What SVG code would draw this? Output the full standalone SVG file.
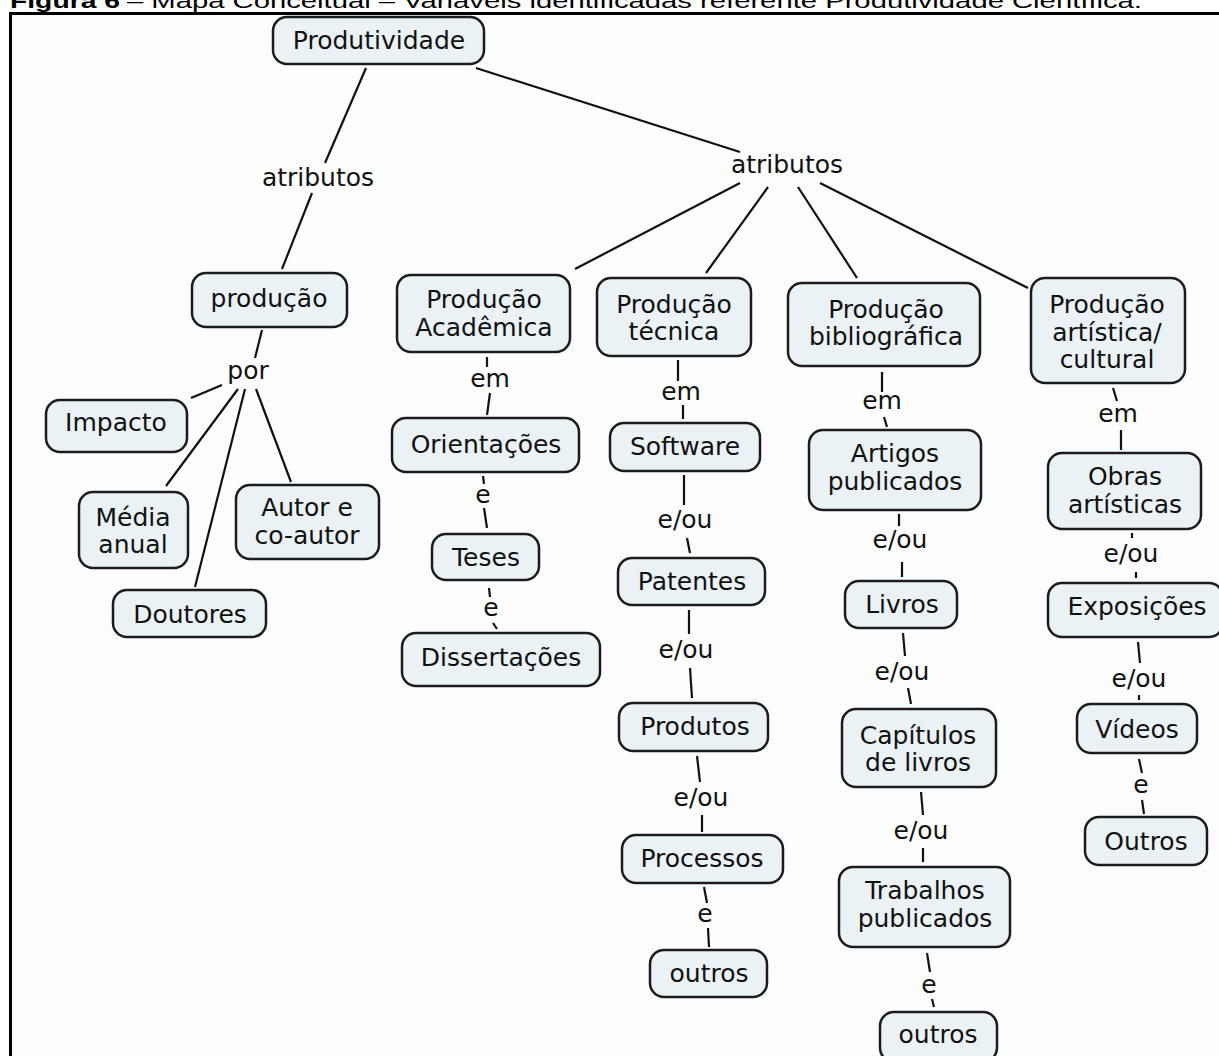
<svg xmlns="http://www.w3.org/2000/svg" width="1219" height="1056" viewBox="0 0 1219 1056">
<style>
.nd rect{fill:#ebf2f5;stroke:#1c1c1c;stroke-width:2.5}
.nd text,.lb{font-family:"DejaVu Sans",Verdana,sans-serif;font-size:25px;fill:#111;text-anchor:middle}
.cn line{stroke:#111;stroke-width:2.2}
.ttl{font-family:"Liberation Sans",Arial,sans-serif;font-size:29px;fill:#000}
</style>
<rect x="0" y="0" width="1219" height="1056" fill="#ffffff"/>
<g transform="translate(0,8) scale(1,0.7)">
<text class="ttl" x="10" y="0" font-weight="bold" textLength="110" lengthAdjust="spacingAndGlyphs">Figura 6</text>
<text class="ttl" x="127" y="0" textLength="1015" lengthAdjust="spacingAndGlyphs">– Mapa Conceitual – Variáveis identificadas referente Produtividade Científica.</text>
</g>
<rect x="10.5" y="13.5" width="1230" height="1060" fill="#fdfdfd" stroke="#000" stroke-width="3"/>
<g id="connectors" class="cn">
<line x1="366" y1="68" x2="325" y2="163"/>
<line x1="312" y1="193" x2="282" y2="269"/>
<line x1="476" y1="68" x2="740" y2="152"/>
<line x1="740" y1="183" x2="575" y2="269"/>
<line x1="768" y1="187" x2="706" y2="273"/>
<line x1="798" y1="187" x2="857" y2="278"/>
<line x1="820" y1="183" x2="1028" y2="288"/>
<line x1="262" y1="330" x2="255" y2="358"/>
<line x1="222" y1="385" x2="191" y2="398"/>
<line x1="238" y1="389" x2="166" y2="486"/>
<line x1="245" y1="389" x2="195" y2="587"/>
<line x1="256" y1="389" x2="291" y2="482"/>
<line x1="487" y1="357" x2="487" y2="367"/>
<line x1="490" y1="393" x2="487" y2="415"/>
<line x1="483" y1="476" x2="484" y2="484"/>
<line x1="484" y1="508" x2="487" y2="528"/>
<line x1="489" y1="588" x2="490" y2="597"/>
<line x1="493" y1="623" x2="497" y2="629"/>
<line x1="678" y1="360" x2="678" y2="381"/>
<line x1="683" y1="405" x2="683" y2="419"/>
<line x1="684" y1="475" x2="684" y2="505"/>
<line x1="687" y1="538" x2="690" y2="553"/>
<line x1="689" y1="610" x2="689" y2="634"/>
<line x1="690" y1="668" x2="692" y2="698"/>
<line x1="697" y1="756" x2="700" y2="782"/>
<line x1="702" y1="815" x2="702" y2="832"/>
<line x1="704" y1="887" x2="707" y2="903"/>
<line x1="708" y1="928" x2="709" y2="947"/>
<line x1="882" y1="372" x2="882" y2="392"/>
<line x1="884" y1="417" x2="887" y2="427"/>
<line x1="899" y1="514" x2="899" y2="526"/>
<line x1="902" y1="562" x2="902" y2="577"/>
<line x1="903" y1="633" x2="905" y2="656"/>
<line x1="908" y1="688" x2="911" y2="704"/>
<line x1="921" y1="792" x2="923" y2="815"/>
<line x1="923" y1="848" x2="923" y2="862"/>
<line x1="927" y1="953" x2="930" y2="972"/>
<line x1="932" y1="999" x2="934" y2="1007"/>
<line x1="1113" y1="388" x2="1117" y2="401"/>
<line x1="1121" y1="430" x2="1121" y2="450"/>
<line x1="1132" y1="533" x2="1132" y2="538"/>
<line x1="1136" y1="572" x2="1136" y2="578"/>
<line x1="1138" y1="642" x2="1140" y2="663"/>
<line x1="1139" y1="695" x2="1139" y2="700"/>
<line x1="1139" y1="759" x2="1142" y2="773"/>
<line x1="1142" y1="800" x2="1144" y2="814"/>
</g>
<g id="labels">
<text class="lb" x="318" y="186">atributos</text>
<text class="lb" x="787" y="173">atributos</text>
<text class="lb" x="248" y="379">por</text>
<text class="lb" x="490" y="387">em</text>
<text class="lb" x="483" y="503">e</text>
<text class="lb" x="491" y="616">e</text>
<text class="lb" x="681" y="400">em</text>
<text class="lb" x="685" y="528">e/ou</text>
<text class="lb" x="686" y="658">e/ou</text>
<text class="lb" x="701" y="806">e/ou</text>
<text class="lb" x="705" y="922">e</text>
<text class="lb" x="882" y="409">em</text>
<text class="lb" x="900" y="548">e/ou</text>
<text class="lb" x="902" y="680">e/ou</text>
<text class="lb" x="921" y="839">e/ou</text>
<text class="lb" x="929" y="993">e</text>
<text class="lb" x="1118" y="422">em</text>
<text class="lb" x="1131" y="562">e/ou</text>
<text class="lb" x="1139" y="687">e/ou</text>
<text class="lb" x="1141" y="793">e</text>
</g>
<g id="n-produtividade" class="nd"><rect x="273" y="17" width="211" height="47" rx="14"/><text x="379" y="49">Produtividade</text></g>
<g id="n-producao" class="nd"><rect x="192" y="273" width="155" height="54" rx="14"/><text x="269" y="307">produção</text></g>
<g id="n-impacto" class="nd"><rect x="46" y="400" width="141" height="52" rx="14"/><text x="116" y="431">Impacto</text></g>
<g id="n-media" class="nd"><rect x="79" y="492" width="109" height="76" rx="14"/><text x="133" y="526">Média</text><text x="133" y="553">anual</text></g>
<g id="n-autor" class="nd"><rect x="236" y="485" width="143" height="74" rx="14"/><text x="307" y="516">Autor e</text><text x="307" y="544">co-autor</text></g>
<g id="n-doutores" class="nd"><rect x="113" y="590" width="153" height="47" rx="14"/><text x="190" y="623">Doutores</text></g>
<g id="n-academica" class="nd"><rect x="397" y="275" width="173" height="77" rx="14"/><text x="484" y="308">Produção</text><text x="484" y="336">Acadêmica</text></g>
<g id="n-orientacoes" class="nd"><rect x="392" y="418" width="187" height="54" rx="14"/><text x="486" y="453">Orientações</text></g>
<g id="n-teses" class="nd"><rect x="432" y="534" width="107" height="46" rx="14"/><text x="486" y="566">Teses</text></g>
<g id="n-dissertacoes" class="nd"><rect x="402" y="633" width="198" height="53" rx="14"/><text x="501" y="666">Dissertações</text></g>
<g id="n-tecnica" class="nd"><rect x="597" y="278" width="154" height="78" rx="14"/><text x="674" y="313">Produção</text><text x="674" y="340">técnica</text></g>
<g id="n-software" class="nd"><rect x="610" y="423" width="150" height="48" rx="14"/><text x="685" y="455">Software</text></g>
<g id="n-patentes" class="nd"><rect x="618" y="558" width="147" height="47" rx="14"/><text x="692" y="590">Patentes</text></g>
<g id="n-produtos" class="nd"><rect x="619" y="703" width="149" height="48" rx="14"/><text x="695" y="735">Produtos</text></g>
<g id="n-processos" class="nd"><rect x="622" y="835" width="161" height="48" rx="14"/><text x="702" y="867">Processos</text></g>
<g id="n-outros-tec" class="nd"><rect x="650" y="950" width="117" height="47" rx="14"/><text x="709" y="982">outros</text></g>
<g id="n-bibliografica" class="nd"><rect x="788" y="283" width="192" height="83" rx="14"/><text x="886" y="318">Produção</text><text x="886" y="345">bibliográfica</text></g>
<g id="n-artigos" class="nd"><rect x="809" y="430" width="172" height="80" rx="14"/><text x="895" y="462">Artigos</text><text x="895" y="490">publicados</text></g>
<g id="n-livros" class="nd"><rect x="845" y="581" width="112" height="47" rx="14"/><text x="902" y="613">Livros</text></g>
<g id="n-capitulos" class="nd"><rect x="842" y="709" width="154" height="78" rx="14"/><text x="918" y="744">Capítulos</text><text x="918" y="771">de livros</text></g>
<g id="n-trabalhos" class="nd"><rect x="839" y="867" width="171" height="80" rx="14"/><text x="925" y="899">Trabalhos</text><text x="925" y="927">publicados</text></g>
<g id="n-outros-bib" class="nd"><rect x="880" y="1012" width="117" height="50" rx="14"/><text x="938" y="1043">outros</text></g>
<g id="n-artistica" class="nd"><rect x="1031" y="278" width="154" height="105" rx="14"/><text x="1107" y="313">Produção</text><text x="1107" y="341">artística/</text><text x="1107" y="368">cultural</text></g>
<g id="n-obras" class="nd"><rect x="1048" y="453" width="153" height="76" rx="14"/><text x="1125" y="485">Obras</text><text x="1125" y="513">artísticas</text></g>
<g id="n-exposicoes" class="nd"><rect x="1048" y="583" width="175" height="54" rx="14"/><text x="1137" y="615">Exposições</text></g>
<g id="n-videos" class="nd"><rect x="1077" y="704" width="120" height="49" rx="14"/><text x="1137" y="738">Vídeos</text></g>
<g id="n-outros-art" class="nd"><rect x="1085" y="817" width="122" height="48" rx="14"/><text x="1146" y="850">Outros</text></g>
</svg>
